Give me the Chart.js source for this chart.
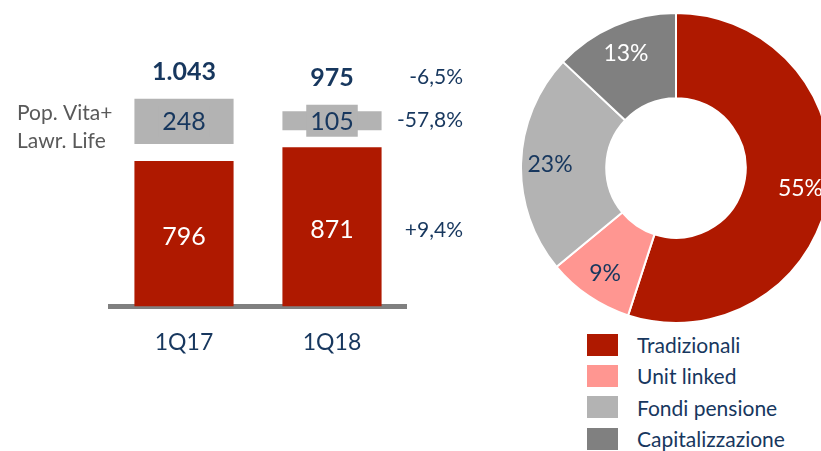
<!DOCTYPE html>
<html>
<head>
<meta charset="utf-8">
<script src="https://cdn.jsdelivr.net/npm/chart.js@4.4.1/dist/chart.umd.min.js"></script>
<style>
  html, body { margin: 0; padding: 0; overflow: hidden; background: #fff; }
  body { width: 821px; height: 451px; position: relative; font-family: Lato, sans-serif; }
  #barChart { position: absolute; left: 0; top: 0; }
  #mixChart { position: absolute; left: 520px; top: 12px; }
  #mixLegend { position: absolute; left: 587px; top: 329px; }
  .legend-row { height: 31.3px; display: flex; align-items: center; }
  .legend-box { width: 31px; height: 22px; margin-right: 19px; }
  .legend-text { font-size: 21px; color: #17375E; }
</style>
</head>
<body>
<canvas id="barChart" width="480" height="451"></canvas>
<canvas id="mixChart" width="312" height="312"></canvas>
<div id="mixLegend"></div>
<script>
// bar chart data
const quarters = ['1Q17', '1Q18'];
const coreValues = [796, 871];
const popVitaValues = [248, 105];
const totalValues = [1043, 975];
const popVitaLabel = ['Pop. Vita+', 'Lawr. Life'];
const changes = [-6.5, -57.8, 9.4]; // total, Pop. Vita+Lawr. Life, core

// doughnut data
const mixLabels = ['Tradizionali', 'Unit linked', 'Fondi pensione', 'Capitalizzazione'];
const mixShares = [55, 9, 23, 13];
const mixColors = ['#AF1900', '#FF9691', '#B3B3B3', '#808080'];
const mixTextColors = ['#fff', '#17375E', '#17375E', '#fff'];

const darkBlue = '#17375E';
const GAP = 93; // space between the two stacked blocks, in value units

function fmtInt(n) {
  return String(n).replace(/\B(?=(\d{3})+(?!\d))/g, '.');
}
function fmtPct(n) {
  var s = Math.abs(n).toFixed(1).replace('.', ',') + '%';
  return (n < 0 ? '-' : '+') + s;
}

var barLabels = {
  id: 'barLabels',
  afterDatasetsDraw: function(chart) {
    var ctx = chart.ctx;
    var core = chart.getDatasetMeta(0).data;
    var pop = chart.getDatasetMeta(1).data;
    var area = chart.chartArea;
    ctx.save();
    ctx.textAlign = 'center';
    ctx.textBaseline = 'middle';
    var popY = [], topY = [];
    pop.forEach(function(bar, i) {
      var cy = (bar.y + bar.base) / 2;
      ctx.font = '25px Lato';
      var txt = fmtInt(popVitaValues[i]);
      var w = ctx.measureText(txt).width + 8;
      var h = 32;
      ctx.fillStyle = '#B3B3B3';
      ctx.fillRect(bar.x - w / 2, cy - h / 2, w, h);
      ctx.fillStyle = darkBlue;
      ctx.fillText(txt, bar.x, cy + 1);
      popY.push(cy);
      topY.push(Math.min(bar.y, cy - h / 2));
    });
    core.forEach(function(bar, i) {
      ctx.font = '25px Lato';
      ctx.fillStyle = '#fff';
      ctx.fillText(fmtInt(coreValues[i]), bar.x, (bar.y + bar.base) / 2 + 3);
    });
    var totY = [];
    pop.forEach(function(bar, i) {
      ctx.font = 'bold 25px Lato';
      ctx.fillStyle = darkBlue;
      var y = topY[i] - 27;
      ctx.fillText(fmtInt(totalValues[i]), bar.x, y);
      totY.push(y);
    });
    // change column
    var last = quarters.length - 1;
    var rowsY = [totY[last], popY[last], (core[last].y + core[last].base) / 2 + 3];
    ctx.font = '21px Lato';
    ctx.textAlign = 'right';
    ctx.fillStyle = darkBlue;
    changes.forEach(function(c, i) {
      ctx.fillText(fmtPct(c), area.right + 57, rowsY[i]);
    });
    // series name on the left
    ctx.textAlign = 'left';
    ctx.fillStyle = '#595959';
    ctx.font = '21px Lato';
    ctx.fillText(popVitaLabel[0], 17, popY[0] - 8);
    ctx.fillText(popVitaLabel[1], 17, popY[0] + 20);
    ctx.restore();
  }
};

new Chart(document.getElementById('barChart'), {
  type: 'bar',
  data: {
    labels: quarters,
    datasets: [
      {
        label: 'Core',
        data: coreValues,
        backgroundColor: '#AF1900',
        grouped: false,
        barPercentage: 1,
        categoryPercentage: 0.67
      },
      {
        label: popVitaLabel.join(' '),
        data: popVitaValues.map(function(v, i) { return [coreValues[i] + GAP, coreValues[i] + GAP + v]; }),
        backgroundColor: '#B3B3B3',
        grouped: false,
        barPercentage: 1,
        categoryPercentage: 0.67
      }
    ]
  },
  options: {
    responsive: false,
    animation: false,
    layout: { padding: { left: 110, right: 74, top: 20, bottom: 73 } },
    plugins: { legend: { display: false }, tooltip: { enabled: false } },
    scales: {
      x: {
        grid: { display: false, drawTicks: false },
        border: { display: true, color: '#808080', width: 5 },
        ticks: { color: darkBlue, font: { family: 'Lato', size: 23 }, padding: 22 }
      },
      y: { display: false, min: 0, max: 1568 }
    }
  },
  plugins: [barLabels]
});

var mixLabelsPlugin = {
  id: 'mixLabelsPlugin',
  afterDatasetsDraw: function(chart) {
    var ctx = chart.ctx;
    ctx.save();
    ctx.textAlign = 'center';
    ctx.textBaseline = 'middle';
    ctx.font = '23px Lato';
    chart.getDatasetMeta(0).data.forEach(function(arc, i) {
      var p = arc.getProps(['x', 'y', 'startAngle', 'endAngle', 'innerRadius', 'outerRadius'], true);
      var mid = (p.startAngle + p.endAngle) / 2;
      var r = p.innerRadius + 0.66 * (p.outerRadius - p.innerRadius);
      ctx.fillStyle = mixTextColors[i];
      ctx.fillText(mixShares[i] + '%', p.x + Math.cos(mid) * r, p.y + Math.sin(mid) * r + 1);
    });
    ctx.restore();
  }
};

new Chart(document.getElementById('mixChart'), {
  type: 'doughnut',
  data: {
    labels: mixLabels,
    datasets: [{
      data: mixShares,
      backgroundColor: mixColors,
      borderColor: '#fff',
      borderWidth: 2
    }]
  },
  options: {
    responsive: false,
    animation: false,
    cutout: '45%',
    plugins: { legend: { display: false }, tooltip: { enabled: false } }
  },
  plugins: [mixLabelsPlugin]
});

var legendBox = document.getElementById('mixLegend');
mixLabels.forEach(function(name, i) {
  var row = document.createElement('div');
  row.className = 'legend-row';
  row.innerHTML = '<div class="legend-box" style="background:' + mixColors[i] + '"></div><span class="legend-text">' + name + '</span>';
  legendBox.appendChild(row);
});
</script>
</body>
</html>
